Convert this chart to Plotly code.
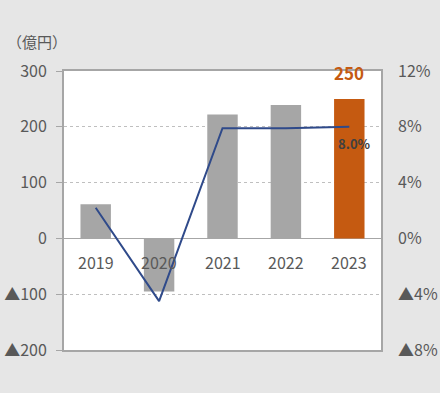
import plotly.graph_objects as go

years = ["2019", "2020", "2021", "2022", "2023"]
sales = [61, -95, 222, 239, 250]          # 億円 (left axis)
ratio = [2.2, -4.5, 7.9, 7.9, 8.0]        # % (right axis)
bar_colors = ["#a6a6a6", "#a6a6a6", "#a6a6a6", "#a6a6a6", "#c55a11"]

left_vals = [-200, -100, 0, 100, 200, 300]
left_text = ["▲200", "▲100", "0", "100", "200", "300"]
right_vals = [-8, -4, 0, 4, 8, 12]
right_text = ["▲8%", "▲4%", "0%", "4%", "8%", "12%"]

FONT = "Noto Sans CJK JP"
TXT = "#595959"

fig = go.Figure()
fig.add_trace(go.Bar(x=years, y=sales, marker=dict(color=bar_colors, line=dict(width=0)),
                     width=0.48, yaxis="y", showlegend=False, hoverinfo="skip"))
fig.add_trace(go.Scatter(x=years, y=ratio, mode="lines", yaxis="y2",
                         line=dict(color="#2f4a8a", width=2), showlegend=False, hoverinfo="skip"))

annotations = []
for i, yr in enumerate(years):
    annotations.append(dict(x=i, y=0, xref="x", yref="y", text=yr, showarrow=False,
                            yanchor="middle", yshift=-24, font=dict(size=16, color=TXT, family=FONT)))
last = len(years) - 1
annotations.append(dict(x=last, y=sales[-1], xref="x", yref="y", text="<b>%d</b>" % sales[-1],
                        showarrow=False, yanchor="bottom", yshift=12,
                        font=dict(size=17, color="#c55a11", family=FONT)))
annotations.append(dict(x=last, y=ratio[-1], xref="x", yref="y2", text="<b>%.1f%%</b>" % ratio[-1],
                        showarrow=False, yanchor="top", xshift=5, yshift=-5,
                        font=dict(size=13, color="#404040", family=FONT)))
annotations.append(dict(x=-0.085, y=1.105, xref="paper", yref="paper", text="（億円）",
                        showarrow=False, xanchor="center", yanchor="middle",
                        font=dict(size=15, color=TXT, family=FONT)))

fig.update_layout(
    width=440, height=393,
    margin=dict(l=64, r=59, t=71, b=43),
    paper_bgcolor="#e6e6e6", plot_bgcolor="white",
    font=dict(family=FONT, color=TXT, size=16),
    xaxis=dict(type="category", range=[-0.5, 4.5], showticklabels=False, ticks="",
               showline=True, mirror=True, linecolor="#a6a6a6", linewidth=2, showgrid=False,
               automargin=False),
    yaxis=dict(range=[-200, 300], tickvals=left_vals, ticktext=left_text,
               showline=True, mirror=True, linecolor="#a6a6a6", linewidth=2,
               ticks="outside", ticklen=6, tickcolor="#a6a6a6", tickwidth=1,
               ticklabelstandoff=6, automargin=False,
               showgrid=True, gridcolor="#bfbfbf", griddash="dot", gridwidth=1,
               zeroline=True, zerolinecolor="#a6a6a6", zerolinewidth=1,
               tickfont=dict(size=16, color=TXT)),
    yaxis2=dict(range=[-8, 12], tickvals=right_vals, ticktext=right_text, overlaying="y",
                side="right", showgrid=False, zeroline=False, ticks="", ticklabelstandoff=16,
                automargin=False, tickfont=dict(size=16, color=TXT)),
    annotations=annotations,
)

fig.write_html("out.html", config={"displayModeBar": False},
               post_script="document.body.style.margin='0';document.body.style.padding='0';")
